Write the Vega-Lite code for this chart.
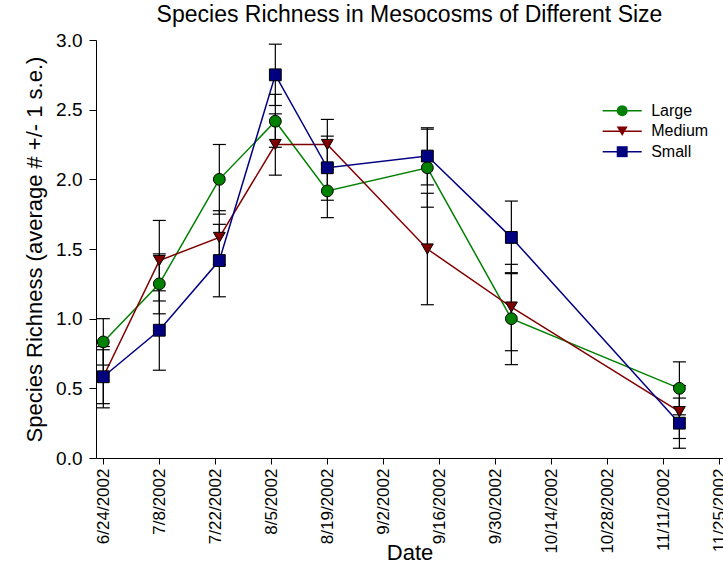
{
  "$schema": "https://vega.github.io/schema/vega-lite/v6.json",
  "width": 627,
  "height": 418,
  "autosize": {"type": "none"},
  "padding": {"left": 96, "top": 40, "right": 0, "bottom": 107},
  "background": "white",
  "config": {
    "font": "Liberation Sans",
    "view": {"stroke": null},
    "axis": {"grid": false, "domainColor": "black", "tickColor": "black", "labelColor": "black", "titleColor": "black", "titleFontWeight": "normal", "domainWidth": 1, "tickWidth": 1},
    "legend": {"labelColor": "black"}
  },
  "title": {"text": "Species Richness in Mesocosms of Different Size", "fontSize": 23, "fontWeight": "normal", "frame": "group", "anchor": "middle", "baseline": "alphabetic", "offset": 8, "dy": 22, "color": "black"},
  "data": {
    "values": [
      {"date": "2002-06-24", "size": "Large", "mean": 0.833, "lo": 0.667, "hi": 1.0},
      {"date": "2002-07-08", "size": "Large", "mean": 1.25, "lo": 1.035, "hi": 1.465},
      {"date": "2002-07-23", "size": "Large", "mean": 2.0, "lo": 1.75, "hi": 2.25},
      {"date": "2002-08-06", "size": "Large", "mean": 2.417, "lo": 2.23, "hi": 2.61},
      {"date": "2002-08-19", "size": "Large", "mean": 1.917, "lo": 1.725, "hi": 2.11},
      {"date": "2002-09-13", "size": "Large", "mean": 2.083, "lo": 1.8, "hi": 2.36},
      {"date": "2002-10-04", "size": "Large", "mean": 1.0, "lo": 0.67, "hi": 1.33},
      {"date": "2002-11-15", "size": "Large", "mean": 0.5, "lo": 0.31, "hi": 0.69},
      {"date": "2002-06-24", "size": "Medium", "mean": 0.583, "lo": 0.36, "hi": 0.8},
      {"date": "2002-07-08", "size": "Medium", "mean": 1.417, "lo": 1.127, "hi": 1.705},
      {"date": "2002-07-23", "size": "Medium", "mean": 1.583, "lo": 1.39, "hi": 1.775},
      {"date": "2002-08-06", "size": "Medium", "mean": 2.25, "lo": 2.03, "hi": 2.47},
      {"date": "2002-08-19", "size": "Medium", "mean": 2.25, "lo": 2.07, "hi": 2.43},
      {"date": "2002-09-13", "size": "Medium", "mean": 1.5, "lo": 1.1, "hi": 1.9},
      {"date": "2002-10-04", "size": "Medium", "mean": 1.083, "lo": 0.77, "hi": 1.39},
      {"date": "2002-11-15", "size": "Medium", "mean": 0.333, "lo": 0.14, "hi": 0.52},
      {"date": "2002-06-24", "size": "Small", "mean": 0.583, "lo": 0.39, "hi": 0.777},
      {"date": "2002-07-08", "size": "Small", "mean": 0.917, "lo": 0.63, "hi": 1.2},
      {"date": "2002-07-23", "size": "Small", "mean": 1.417, "lo": 1.157, "hi": 1.677},
      {"date": "2002-08-06", "size": "Small", "mean": 2.75, "lo": 2.53, "hi": 2.97},
      {"date": "2002-08-19", "size": "Small", "mean": 2.083, "lo": 1.85, "hi": 2.31},
      {"date": "2002-09-13", "size": "Small", "mean": 2.167, "lo": 1.96, "hi": 2.37},
      {"date": "2002-10-04", "size": "Small", "mean": 1.583, "lo": 1.323, "hi": 1.844},
      {"date": "2002-11-15", "size": "Small", "mean": 0.25, "lo": 0.07, "hi": 0.43}
    ]
  },
  "encoding": {
    "x": {
      "field": "date",
      "type": "temporal",
      "scale": {
        "type": "utc",
        "domain": [
          {"year": 2002, "month": 6, "date": 22, "hours": 4, "minutes": 12, "utc": true},
          {"year": 2002, "month": 11, "date": 25, "hours": 21, "minutes": 36, "utc": true}
        ]
      },
      "axis": {
        "title": "Date",
        "titleFontSize": 22,
        "titleBaseline": "alphabetic",
        "titleY": 101,
        "format": "%-m/%-d/%Y",
        "labelAngle": 270,
        "labelFontSize": 17,
        "tickSize": 6,
        "labelPadding": 4,
        "labelOverlap": false,
        "values": [
          {"year": 2002, "month": 6, "date": 24, "utc": true},
          {"year": 2002, "month": 7, "date": 8, "utc": true},
          {"year": 2002, "month": 7, "date": 22, "utc": true},
          {"year": 2002, "month": 8, "date": 5, "utc": true},
          {"year": 2002, "month": 8, "date": 19, "utc": true},
          {"year": 2002, "month": 9, "date": 2, "utc": true},
          {"year": 2002, "month": 9, "date": 16, "utc": true},
          {"year": 2002, "month": 9, "date": 30, "utc": true},
          {"year": 2002, "month": 10, "date": 14, "utc": true},
          {"year": 2002, "month": 10, "date": 28, "utc": true},
          {"year": 2002, "month": 11, "date": 11, "utc": true},
          {"year": 2002, "month": 11, "date": 25, "utc": true}
        ]
      }
    }
  },
  "layer": [
    {
      "mark": {"type": "line", "strokeWidth": 1.5},
      "encoding": {
        "y": {
          "field": "mean",
          "type": "quantitative",
          "scale": {"domain": [0, 3], "nice": false},
          "axis": {"title": "Species Richness (average # +/- 1 s.e.)", "titleFontSize": 22, "titlePadding": 9, "values": [0, 0.5, 1, 1.5, 2, 2.5, 3], "format": ".1f", "labelFontSize": 19, "tickSize": 7, "labelPadding": 7}
        },
        "color": {
          "field": "size",
          "type": "nominal",
          "scale": {"domain": ["Large", "Medium", "Small"], "range": ["#008000", "#800000", "#000080"]},
          "legend": {
            "title": null,
            "orient": "none",
            "legendX": 506.7,
            "legendY": 62.7,
            "padding": 0,
            "symbolType": "M-3.3,0H3.3",
            "symbolSize": 140,
            "symbolStrokeWidth": 1.5,
            "symbolOffset": 11.5,
            "labelFontSize": 16,
            "labelOffset": 21,
            "rowPadding": 4.5
          }
        }
      }
    },
    {
      "mark": {"type": "rule", "color": "black", "strokeWidth": 1.2},
      "encoding": {
        "y": {"field": "lo", "type": "quantitative", "scale": {"domain": [0, 3], "nice": false},
          "axis": {"title": "Species Richness (average # +/- 1 s.e.)", "titleFontSize": 22, "titlePadding": 9, "values": [0, 0.5, 1, 1.5, 2, 2.5, 3], "format": ".1f", "labelFontSize": 19, "tickSize": 7, "labelPadding": 7}},
        "y2": {"field": "hi"}
      }
    },
    {
      "mark": {"type": "tick", "orient": "horizontal", "color": "black", "size": 13, "thickness": 1.2, "opacity": 1},
      "encoding": {
        "y": {"field": "lo", "type": "quantitative", "scale": {"domain": [0, 3], "nice": false},
          "axis": {"title": "Species Richness (average # +/- 1 s.e.)", "titleFontSize": 22, "titlePadding": 9, "values": [0, 0.5, 1, 1.5, 2, 2.5, 3], "format": ".1f", "labelFontSize": 19, "tickSize": 7, "labelPadding": 7}}
      }
    },
    {
      "mark": {"type": "tick", "orient": "horizontal", "color": "black", "size": 13, "thickness": 1.2, "opacity": 1},
      "encoding": {
        "y": {"field": "hi", "type": "quantitative", "scale": {"domain": [0, 3], "nice": false},
          "axis": {"title": "Species Richness (average # +/- 1 s.e.)", "titleFontSize": 22, "titlePadding": 9, "values": [0, 0.5, 1, 1.5, 2, 2.5, 3], "format": ".1f", "labelFontSize": 19, "tickSize": 7, "labelPadding": 7}}
      }
    },
    {
      "mark": {"type": "point", "filled": true, "stroke": "black", "strokeWidth": 1, "size": 140, "opacity": 1},
      "encoding": {
        "y": {"field": "mean", "type": "quantitative", "scale": {"domain": [0, 3], "nice": false},
          "axis": {"title": "Species Richness (average # +/- 1 s.e.)", "titleFontSize": 22, "titlePadding": 9, "values": [0, 0.5, 1, 1.5, 2, 2.5, 3], "format": ".1f", "labelFontSize": 19, "tickSize": 7, "labelPadding": 7}},
        "fill": {
          "field": "size",
          "type": "nominal",
          "scale": {"range": ["#008000", "#800000", "#000080"]},
          "legend": {
            "title": null,
            "orient": "none",
            "legendX": 506.7,
            "legendY": 62.7,
            "padding": 0,
            "labelExpr": "''",
            "labelFontSize": 16,
            "symbolSize": 120,
            "symbolOffset": 11.5,
            "symbolStrokeColor": "black",
            "symbolStrokeWidth": 1,
            "rowPadding": 4.5
          }
        },
        "shape": {
          "field": "size",
          "type": "nominal",
          "scale": {"range": ["circle", "triangle-down", "square"]},
          "legend": {
            "title": null,
            "orient": "none",
            "legendX": 506.7,
            "legendY": 62.7,
            "padding": 0,
            "labelExpr": "''",
            "labelFontSize": 16,
            "symbolSize": 120,
            "symbolOffset": 11.5,
            "symbolStrokeColor": "black",
            "symbolStrokeWidth": 1,
            "rowPadding": 4.5
          }
        }
      }
    }
  ]
}
